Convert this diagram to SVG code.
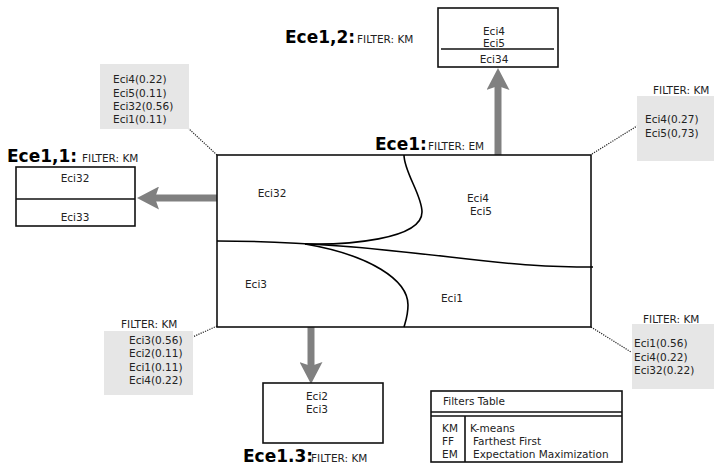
<svg xmlns="http://www.w3.org/2000/svg" width="715" height="465" viewBox="0 0 715 465">
<defs>
<style>
text{font-family:"DejaVu Sans","Liberation Sans",sans-serif;fill:#222}
.t{font-size:10.5px}
.m{text-anchor:middle}
.h{font-size:17px;font-weight:bold;fill:#000}
.box{fill:#fff;stroke:#111;stroke-width:1.6}
.ln{fill:none;stroke:#111;stroke-width:1.6}
.cv{fill:none;stroke:#000;stroke-width:1.6}
.gray{fill:#e6e6e6}
.dot{stroke:#222;stroke-width:1.2;stroke-dasharray:1.2 1.2;fill:none}
.arr{stroke:#808080;stroke-width:7;fill:none;marker-end:url(#ah)}
</style>
<marker id="ah" viewBox="0 0 22 23" refX="4" refY="11.5" markerWidth="22" markerHeight="23" markerUnits="userSpaceOnUse" orient="auto">
<path d="M0,0 L22,11.5 L0,23 L4,11.5 z" fill="#808080"/>
</marker>
</defs>

<g id="connectors">
<line class="arr" x1="498" y1="155" x2="498" y2="86"/>
<line class="arr" x1="217" y1="198" x2="155" y2="198"/>
<line class="arr" x1="311" y1="327" x2="311" y2="366"/>
<line class="dot" x1="188" y1="128" x2="217" y2="155"/>
<line class="dot" x1="592" y1="154" x2="637" y2="126"/>
<line class="dot" x1="217" y1="326" x2="186" y2="340"/>
<line class="dot" x1="591" y1="327" x2="631" y2="352"/>
</g>

<g id="ece1">
<rect class="box" x="217" y="155" width="374" height="172"/>
<path class="cv" d="M404,155 C404,172 422,195 422,212 C422,240 345,245 305,244"/>
<path class="cv" d="M217,241 C260,241 300,243 340,246 C420,252 480,262 530,265 C560,267 580,267 593,267"/>
<path class="cv" d="M305,244 C370,255 408,280 408,305 C408,315 406,320 404,327"/>
<text class="t m" x="272" y="197">Eci32</text>
<text class="t m" x="478" y="202">Eci4</text>
<text class="t m" x="481" y="215">Eci5</text>
<text class="t m" x="256" y="288">Eci3</text>
<text class="t m" x="452" y="302">Eci1</text>
<text class="h" x="375" y="150">Ece1:</text>
<text class="t" x="428" y="150">FILTER: EM</text>
</g>

<g id="ece1-2">
<rect class="box" x="438" y="8" width="120" height="59"/>
<line class="ln" x1="441" y1="49" x2="554" y2="49"/>
<text class="t m" x="494" y="35">Eci4</text>
<text class="t m" x="494" y="47">Eci5</text>
<text class="t m" x="494" y="63">Eci34</text>
<text class="h" x="285" y="43">Ece1,2:</text>
<text class="t" x="357" y="43">FILTER: KM</text>
</g>

<g id="ece1-1">
<rect class="box" x="16" y="167" width="119" height="59"/>
<line class="ln" x1="16" y1="199" x2="135" y2="199"/>
<text class="t m" x="75" y="182">Eci32</text>
<text class="t m" x="75" y="221">Eci33</text>
<text class="h" x="7" y="162">Ece1,1:</text>
<text class="t" x="82" y="162">FILTER: KM</text>
</g>

<g id="ece1-3">
<rect class="box" x="263" y="383" width="120" height="60"/>
<text class="t m" x="317" y="400">Eci2</text>
<text class="t m" x="317" y="413">Eci3</text>
<text class="h" x="243" y="462">Ece1.3:</text>
<text class="t" x="311" y="462">FILTER: KM</text>
</g>

<g id="note-top-left">
<rect class="gray" x="100" y="64" width="89" height="65"/>
<text class="t" x="113" y="83">Eci4(0.22)</text>
<text class="t" x="113" y="97">Eci5(0.11)</text>
<text class="t" x="113" y="110">Eci32(0.56)</text>
<text class="t" x="113" y="123">Eci1(0.11)</text>
</g>

<g id="note-top-right">
<text class="t" x="653" y="94">FILTER: KM</text>
<rect class="gray" x="637" y="96" width="77" height="65"/>
<text class="t" x="645" y="123">Eci4(0.27)</text>
<text class="t" x="645" y="137">Eci5(0,73)</text>
</g>

<g id="note-bottom-left">
<text class="t" x="121" y="328">FILTER: KM</text>
<rect class="gray" x="104" y="331" width="89" height="64"/>
<text class="t" x="129" y="344">Eci3(0.56)</text>
<text class="t" x="129" y="357">Eci2(0.11)</text>
<text class="t" x="129" y="371">Eci1(0.11)</text>
<text class="t" x="129" y="384">Eci4(0.22)</text>
</g>

<g id="note-bottom-right">
<text class="t" x="643" y="323">FILTER: KM</text>
<rect class="gray" x="632" y="324" width="82" height="65"/>
<text class="t" x="634" y="347">Eci1(0.56)</text>
<text class="t" x="634" y="361">Eci4(0.22)</text>
<text class="t" x="634" y="374">Eci32(0.22)</text>
</g>

<g id="filters-table">
<rect class="box" x="431" y="391" width="191" height="71"/>
<line class="ln" x1="431" y1="412" x2="622" y2="412"/>
<line class="ln" x1="431" y1="416" x2="622" y2="416"/>
<line class="ln" x1="465" y1="416" x2="465" y2="462"/>
<text class="t" x="443" y="405">Filters Table</text>
<text class="t" x="442" y="432">KM</text>
<text class="t" x="442" y="445">FF</text>
<text class="t" x="442" y="458">EM</text>
<text class="t" x="470" y="432">K-means</text>
<text class="t" x="473" y="445">Farthest First</text>
<text class="t" x="473" y="458">Expectation Maximization</text>
</g>
</svg>
